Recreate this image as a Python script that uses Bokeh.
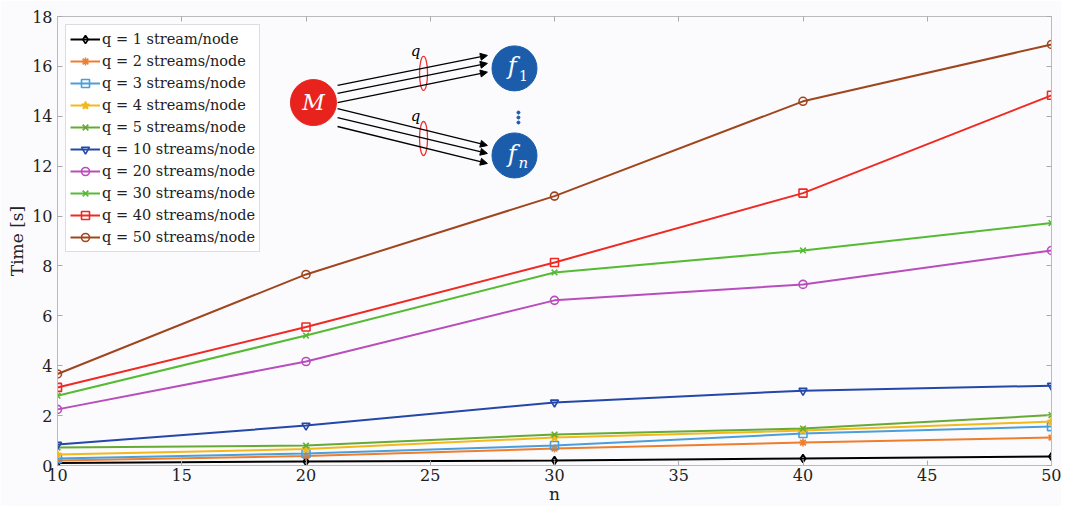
from bokeh.plotting import figure
from bokeh.embed import file_html
from bokeh.resources import INLINE
from bokeh.models import LinearAxis, Range1d, FixedTicker, Arrow, NormalHead, Label, CustomJSTickFormatter
from bokeh.core.properties import value

n = [10, 20, 30, 40, 50]
q_labels = ["q = 1 stream/node", "q = 2 streams/node", "q = 3 streams/node", "q = 4 streams/node",
            "q = 5 streams/node", "q = 10 streams/node", "q = 20 streams/node", "q = 30 streams/node",
            "q = 40 streams/node", "q = 50 streams/node"]
t_q1 = [0.10, 0.16, 0.20, 0.28, 0.36]
t_q2 = [0.20, 0.38, 0.68, 0.92, 1.12]
t_q3 = [0.28, 0.48, 0.80, 1.28, 1.56]
t_q4 = [0.44, 0.66, 1.12, 1.40, 1.76]
t_q5 = [0.72, 0.80, 1.24, 1.48, 2.02]
t_q10 = [0.84, 1.60, 2.53, 3.00, 3.20]
t_q20 = [2.25, 4.17, 6.62, 7.26, 8.62]
t_q30 = [2.80, 5.21, 7.74, 8.62, 9.72]
t_q40 = [3.13, 5.55, 8.14, 10.92, 14.84]
t_q50 = [3.67, 7.66, 10.80, 14.60, 16.88]
series = [t_q1, t_q2, t_q3, t_q4, t_q5, t_q10, t_q20, t_q30, t_q40, t_q50]
colors = ["#000000", "#EE7D2E", "#4A9FDB", "#F2B81C", "#66AA33", "#2448A8", "#B84DBB", "#55BB33", "#EE2A22", "#A0461E"]
markers = ["diamond", "asterisk", "square", "star", "x", "inverted_triangle", "circle", "x", "square", "circle"]
fills = [None, None, None, "#F2B81C", None, None, None, None, None, None]
x_ticks = [10, 15, 20, 25, 30, 35, 40, 45, 50]
y_ticks = [0, 2, 4, 6, 8, 10, 12, 14, 16, 18]

SERIF = "DejaVu Serif"
BG = "#FBFBFD"

p = figure(frame_width=994, frame_height=449, output_backend="svg", toolbar_location=None,
           x_range=Range1d(10, 50), y_range=Range1d(0, 18),
           min_border_left=57, min_border_top=16, min_border_right=10, min_border_bottom=38,
           background_fill_color=BG, border_fill_color=BG)
p.grid.visible = False
p.outline_line_color = "#BBBBBB"

for ax in (p.xaxis[0], p.yaxis[0]):
    ax.major_tick_in = 5
    ax.major_tick_out = 0
    ax.minor_tick_line_color = None
    ax.axis_line_color = "#BBBBBB"
    ax.major_tick_line_color = "#AAAAAA"
    ax.major_label_text_font = SERIF
    ax.major_label_text_font_size = "16px"
    ax.major_label_text_color = "#222222"
    ax.axis_label_text_font = SERIF
    ax.axis_label_text_font_style = "normal"
    ax.axis_label_text_font_size = "17px"
    ax.axis_label_text_color = "#222222"
p.xaxis[0].ticker = FixedTicker(ticks=x_ticks)
p.yaxis[0].ticker = FixedTicker(ticks=y_ticks)
p.xaxis[0].axis_label = "n"
p.yaxis[0].axis_label = "Time [s]"
p.xaxis[0].major_label_standoff = 3
p.xaxis[0].axis_label_standoff = 0
p.yaxis[0].major_label_standoff = 5
p.yaxis[0].axis_label_standoff = 2

ax_r = LinearAxis(ticker=FixedTicker(ticks=y_ticks), formatter=CustomJSTickFormatter(code="return '';"),
                  major_tick_in=5, major_tick_out=0, minor_tick_line_color=None,
                  axis_line_color="#BBBBBB", major_tick_line_color="#AAAAAA")
ax_t = LinearAxis(ticker=FixedTicker(ticks=x_ticks), formatter=CustomJSTickFormatter(code="return '';"),
                  major_tick_in=5, major_tick_out=0, minor_tick_line_color=None,
                  axis_line_color="#BBBBBB", major_tick_line_color="#AAAAAA")
p.add_layout(ax_r, "right")
p.add_layout(ax_t, "above")

for lab_, ys, c, m, f in zip(q_labels, series, colors, markers, fills):
    p.line(n, ys, line_color=c, line_width=2, legend_label=lab_)
    p.scatter(n, ys, marker=m, size=8, line_color=c, line_width=1.6, fill_color=f, legend_label=lab_)

leg = p.legend[0]
leg.location = "top_left"
leg.margin = 8
leg.padding = 4
leg.spacing = 2
leg.label_height = 20
leg.glyph_height = 20
leg.glyph_width = 30
leg.label_standoff = 2
leg.label_text_font = SERIF
leg.label_text_font_size = "14.5px"
leg.label_text_color = "#222222"
leg.border_line_color = "#BBBBBB"
leg.background_fill_color = "white"
leg.background_fill_alpha = 1.0

# ---- inset diagram (decoration) ----
arr_x0 = 21.27
arr_x1 = 27.30
up_y0 = [15.24, 14.92, 14.55]
up_y1 = [16.44, 16.12, 15.77]
lo_y0 = [14.31, 13.95, 13.59]
lo_y1 = [12.83, 12.51, 12.11]
for y0, y1 in list(zip(up_y0, up_y1)) + list(zip(lo_y0, lo_y1)):
    p.add_layout(Arrow(end=NormalHead(size=7, fill_color="black", line_color="black"),
                       x_start=arr_x0, y_start=y0, x_end=arr_x1, y_end=y1,
                       line_color="black", line_width=1.3))

p.ellipse(x=[24.73, 24.73], y=[15.72, 13.11], width=8, height=34,
          width_units="screen", height_units="screen", fill_color=None, line_color="#EE3333", line_width=1.3)

p.scatter(x=[20.3], y=[14.55], size=46, marker="circle", fill_color="#E8231E", line_color="#E8231E")
p.scatter(x=[28.39, 28.39], y=[15.92, 12.43], size=45, marker="circle", fill_color="#1B5DAA", line_color="#1B5DAA")
p.scatter(x=[28.55, 28.55, 28.55], y=[14.15, 13.95, 13.75], size=3, marker="circle", fill_color="#1B5DAA", line_color="#1B5DAA")

def lab(x, y, t, size, color, style="italic"):
    p.add_layout(Label(x=x, y=y, text=t, text_font=SERIF, text_font_size=size, text_color=color,
                       text_font_style=style, text_align="center", text_baseline="middle"))

lab(20.3, 14.55, "M", "22px", "white")
lab(28.3, 16.0, "f", "24px", "white")
lab(28.75, 15.62, "1", "14px", "white", "normal")
lab(28.3, 12.5, "f", "24px", "white")
lab(28.75, 12.12, "n", "15px", "white")
lab(24.41, 16.62, "q", "15px", "black")
lab(24.41, 14.0, "q", "15px", "black")

open("out.html", "w").write(file_html(p, INLINE))
